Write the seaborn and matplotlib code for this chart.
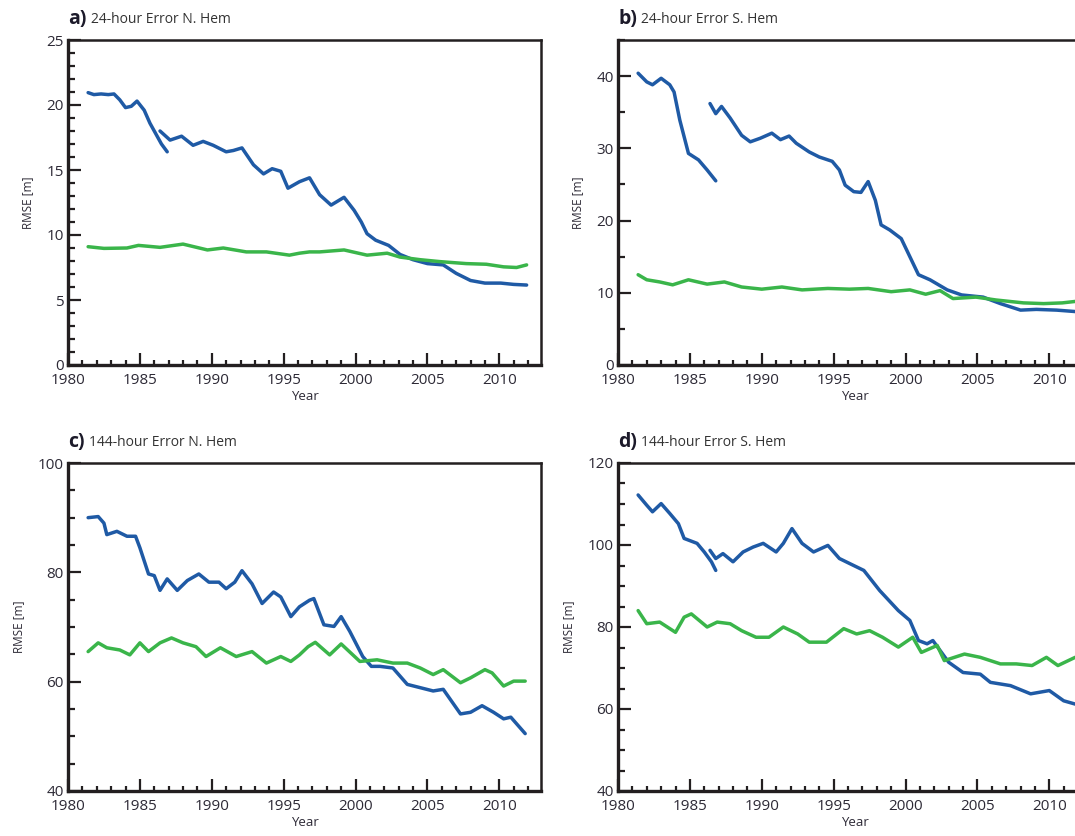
import pandas as pd
import seaborn as sns
import matplotlib.pyplot as plt
from matplotlib.ticker import MultipleLocator

sns.set_style('ticks')
plt.rcParams['font.family'] = ['Open Sans', 'DejaVu Sans']

BLUE = '#1f5aa5'
GREEN = '#3ab54a'
DARK = '#2d2a36'

# ---- a) 24-hour N. Hem ----
a_old_yr = [1981.4, 1981.8, 1982.3, 1982.8, 1983.2, 1983.6, 1984.0, 1984.4, 1984.8, 1985.3, 1985.7, 1986.1, 1986.5, 1986.9]
a_old = [20.95, 20.8, 20.85, 20.8, 20.85, 20.4, 19.8, 19.9, 20.3, 19.6, 18.6, 17.8, 17.0, 16.4]
a_new_yr = [1986.4, 1987.1, 1987.9, 1988.7, 1989.4, 1990.1, 1991.0, 1991.5, 1992.1, 1992.9, 1993.6, 1994.2, 1994.8,
            1995.3, 1996.1, 1996.8, 1997.5, 1998.3, 1999.2, 1999.9, 2000.4, 2000.8, 2001.4, 2002.3, 2003.1, 2004.0,
            2005.0, 2006.1, 2007.0, 2008.0, 2009.0, 2010.1, 2011.0, 2011.9]
a_new = [18.0, 17.3, 17.6, 16.9, 17.2, 16.9, 16.4, 16.5, 16.7, 15.4, 14.7, 15.1, 14.9,
         13.6, 14.1, 14.4, 13.1, 12.3, 12.9, 11.9, 11.0, 10.1, 9.6, 9.2, 8.5, 8.1,
         7.8, 7.7, 7.05, 6.5, 6.3, 6.3, 6.2, 6.15]
a_grn_yr = [1981.4, 1982.5, 1984.1, 1984.9, 1986.4, 1988.0, 1989.7, 1990.8, 1992.4, 1993.8, 1995.4, 1996.1, 1996.8,
            1997.5, 1999.2, 2000.8, 2002.2, 2003.1, 2004.5, 2005.9, 2007.7, 2009.1, 2010.3, 2011.2, 2011.9]
a_grn = [9.1, 8.97, 9.0, 9.2, 9.05, 9.3, 8.85, 9.0, 8.7, 8.7, 8.45, 8.6, 8.7,
         8.7, 8.85, 8.45, 8.6, 8.3, 8.1, 7.95, 7.8, 7.75, 7.55, 7.5, 7.7]

# ---- b) 24-hour S. Hem ----
b_old_yr = [1981.4, 1982.0, 1982.4, 1983.0, 1983.6, 1983.9, 1984.3, 1984.9, 1985.6, 1986.2, 1986.8]
b_old = [40.4, 39.2, 38.8, 39.7, 38.8, 37.8, 33.9, 29.3, 28.4, 27.0, 25.5]
b_new_yr = [1986.4, 1986.8, 1987.2, 1987.8, 1988.6, 1989.2, 1989.9, 1990.7, 1991.3, 1991.9, 1992.4, 1993.3, 1994.0,
            1994.9, 1995.4, 1995.8, 1996.4, 1996.9, 1997.4, 1997.9, 1998.3, 1998.9, 1999.7, 2000.3, 2000.9, 2001.7,
            2002.9, 2003.9, 2005.4, 2006.6, 2008.0, 2009.1, 2010.5, 2011.8]
b_new = [36.2, 34.8, 35.8, 34.2, 31.8, 30.9, 31.4, 32.1, 31.2, 31.7, 30.7, 29.5, 28.8,
         28.2, 27.0, 24.9, 24.0, 23.9, 25.4, 22.8, 19.4, 18.7, 17.5, 15.0, 12.5, 11.8,
         10.4, 9.7, 9.4, 8.5, 7.6, 7.7, 7.6, 7.4]
b_grn_yr = [1981.4, 1982.0, 1982.9, 1983.8, 1984.9, 1986.2, 1987.4, 1988.6, 1990.0, 1991.4, 1992.8, 1994.6, 1996.1,
            1997.4, 1999.0, 2000.3, 2001.4, 2002.4, 2003.3, 2004.9, 2006.3, 2008.2, 2009.6, 2010.9, 2011.8]
b_grn = [12.5, 11.8, 11.5, 11.1, 11.8, 11.2, 11.5, 10.8, 10.5, 10.8, 10.4, 10.6, 10.5,
         10.6, 10.15, 10.4, 9.8, 10.3, 9.2, 9.4, 9.0, 8.6, 8.5, 8.6, 8.8]

# ---- c) 144-hour N. Hem ----
c_blu_yr = [1981.4, 1982.1, 1982.5, 1982.7, 1983.4, 1984.1, 1984.7, 1985.0, 1985.6, 1986.0, 1986.4, 1986.9, 1987.6,
            1988.3, 1989.1, 1989.8, 1990.5, 1991.0, 1991.6, 1992.1, 1992.8, 1993.5, 1994.3, 1994.8, 1995.5, 1996.1,
            1996.8, 1997.1, 1997.8, 1998.5, 1999.0, 1999.6, 2000.5, 2001.1, 2001.7, 2002.6, 2003.6, 2004.5, 2005.4,
            2006.1, 2007.3, 2008.0, 2008.8, 2009.6, 2010.3, 2010.8, 2011.3, 2011.8]
c_blu = [90.0, 90.2, 89.0, 86.9, 87.5, 86.6, 86.6, 84.5, 79.7, 79.4, 76.7, 78.8, 76.7,
         78.5, 79.7, 78.2, 78.2, 77.0, 78.2, 80.3, 77.9, 74.3, 76.4, 75.5, 71.9, 73.7,
         74.9, 75.2, 70.4, 70.1, 71.9, 69.2, 64.6, 62.8, 62.8, 62.5, 59.5, 58.9, 58.3,
         58.6, 54.1, 54.4, 55.6, 54.4, 53.2, 53.5, 52.0, 50.5]
c_grn_yr = [1981.4, 1982.1, 1982.7, 1983.6, 1984.3, 1985.0, 1985.6, 1986.4, 1987.2, 1988.0, 1988.9, 1989.6, 1990.6,
            1991.7, 1992.8, 1993.8, 1994.8, 1995.5, 1996.1, 1996.7, 1997.2, 1998.2, 1999.0, 2000.3, 2001.5, 2002.6,
            2003.6, 2004.5, 2005.4, 2006.1, 2007.3, 2008.0, 2009.0, 2009.5, 2010.3, 2011.0, 2011.8]
c_grn = [65.5, 67.1, 66.2, 65.8, 64.9, 67.1, 65.5, 67.1, 68.0, 67.1, 66.4, 64.6, 66.2,
         64.6, 65.5, 63.4, 64.6, 63.7, 64.9, 66.4, 67.2, 64.9, 66.9, 63.7, 64.0, 63.4,
         63.4, 62.5, 61.3, 62.2, 59.8, 60.7, 62.2, 61.6, 59.2, 60.1, 60.1]

# ---- d) 144-hour S. Hem ----
d_old_yr = [1981.4, 1982.0, 1982.4, 1983.0, 1983.6, 1984.2, 1984.6, 1985.5, 1986.0, 1986.5, 1986.8]
d_old = [112.2, 109.7, 108.1, 110.1, 107.7, 105.2, 101.6, 100.4, 98.3, 95.9, 93.8]
d_new_yr = [1986.4, 1986.8, 1987.3, 1988.0, 1988.7, 1989.4, 1990.1, 1991.0, 1991.5, 1992.1, 1992.8, 1993.6, 1994.6,
            1995.4, 1996.1, 1997.1, 1998.2, 1999.5, 2000.3, 2000.9, 2001.5, 2001.9, 2003.0, 2004.0, 2005.2, 2005.9,
            2007.3, 2008.7, 2010.0, 2011.0, 2011.8]
d_new = [98.7, 96.7, 97.9, 95.9, 98.3, 99.5, 100.4, 98.3, 100.4, 104.0, 100.4, 98.3, 99.9,
         96.7, 95.5, 93.8, 88.9, 84.0, 81.6, 76.7, 75.9, 76.7, 71.4, 68.9, 68.5, 66.5,
         65.7, 63.7, 64.5, 62.0, 61.2]
d_grn_yr = [1981.4, 1982.0, 1982.9, 1984.0, 1984.6, 1985.1, 1986.2, 1986.9, 1987.8, 1988.6, 1989.6, 1990.5, 1991.5,
            1992.5, 1993.3, 1994.5, 1995.7, 1996.6, 1997.5, 1998.4, 1999.5, 2000.5, 2001.1, 2002.2, 2002.7, 2004.1,
            2005.2, 2006.6, 2007.7, 2008.8, 2009.8, 2010.6, 2011.8]
d_grn = [84.0, 80.8, 81.2, 78.7, 82.4, 83.2, 80.0, 81.2, 80.8, 79.1, 77.5, 77.5, 80.0,
         78.3, 76.3, 76.3, 79.6, 78.3, 79.1, 77.5, 75.1, 77.5, 73.8, 75.5, 71.8, 73.4,
         72.6, 71.0, 71.0, 70.6, 72.6, 70.6, 72.6]

panels = [
    ('a)', '24-hour Error N. Hem', [(a_old_yr, a_old, BLUE), (a_new_yr, a_new, BLUE), (a_grn_yr, a_grn, GREEN)],
     (0, 25), 5, 1, [68, 40, 541, 365]),
    ('b)', '24-hour Error S. Hem', [(b_old_yr, b_old, BLUE), (b_new_yr, b_new, BLUE), (b_grn_yr, b_grn, GREEN)],
     (0, 45), 10, 5, [618, 40, 1091, 365]),
    ('c)', '144-hour Error N. Hem', [(c_blu_yr, c_blu, BLUE), (c_grn_yr, c_grn, GREEN)],
     (40, 100), 20, 5, [68, 463, 541, 791]),
    ('d)', '144-hour Error S. Hem', [(d_old_yr, d_old, BLUE), (d_new_yr, d_new, BLUE), (d_grn_yr, d_grn, GREEN)],
     (40, 120), 20, 5, [618, 463, 1091, 791]),
]

W, H = 1075, 836
fig = plt.figure(figsize=(W / 100, H / 100), dpi=100)

for tag, title, series, ylim, ymaj, ymin, box in panels:
    x0, y0, x1, y1 = box
    ax = fig.add_axes([x0 / W, 1 - y1 / H, (x1 - x0) / W, (y1 - y0) / H])
    for yr, val, col in series:
        df = pd.DataFrame({'Year': yr, 'RMSE': val})
        sns.lineplot(data=df, x='Year', y='RMSE', ax=ax, color=col, linewidth=2.5)

    ax.set_xlim(1980, 2012.9)
    ax.set_ylim(*ylim)
    ax.xaxis.set_major_locator(MultipleLocator(5))
    ax.xaxis.set_minor_locator(MultipleLocator(1))
    ax.yaxis.set_major_locator(MultipleLocator(ymaj))
    ax.yaxis.set_minor_locator(MultipleLocator(ymin))
    ax.tick_params(which='both', direction='in', colors='#231f20', labelcolor=DARK, labelsize=11, width=1.6)
    ax.tick_params(axis='x', which='major', length=9, pad=6)
    ax.tick_params(axis='x', which='minor', length=3.5)
    ax.tick_params(axis='y', which='major', length=9, pad=3)
    ax.tick_params(axis='y', which='minor', length=5)
    for s in ax.spines.values():
        s.set_visible(True)
        s.set_linewidth(1.8)
        s.set_color('#231f20')
    ax.spines['left'].set_linewidth(2.4)
    ax.spines['bottom'].set_linewidth(2.4)

    ax.set_xlabel('Year', fontsize=9.5, color=DARK, labelpad=1)
    ax.set_ylabel('RMSE [m]', fontsize=8.5, color=DARK, labelpad=9)

    t = ax.text(0.0, 1.035, tag, transform=ax.transAxes, fontsize=14, fontweight='bold',
                color='#1c1a2a', ha='left', va='bottom')
    ax.annotate(title, xy=(1, 0), xycoords=t, xytext=(3, 1), textcoords='offset points',
                fontsize=10, color='#333333', ha='left', va='bottom')

fig.savefig('out.png', dpi=100)
